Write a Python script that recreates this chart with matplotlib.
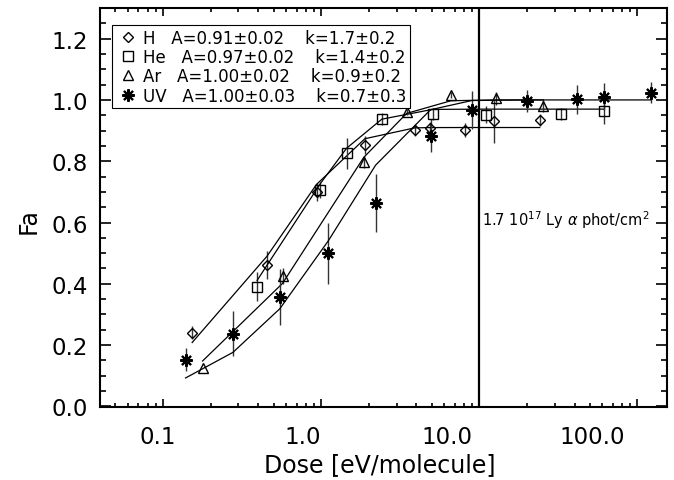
import numpy as np
import matplotlib
matplotlib.use("Agg")
import matplotlib.pyplot as plt
from matplotlib.ticker import MultipleLocator, LogLocator, NullFormatter, FixedLocator, FormatStrFormatter
from matplotlib.lines import Line2D

plt.rcParams['font.family'] = ['DejaVu Sans']

# ---- data ----
H_dose = [0.153, 0.455, 0.935, 1.89, 3.90, 4.88, 8.12, 12.4, 24.1]
H_fa   = [0.241, 0.461, 0.700, 0.853, 0.902, 0.907, 0.902, 0.930, 0.934]
H_err  = [0.022, 0.045, 0.030, 0.030, 0.020, 0.020, 0.022, 0.070, 0.020]

He_dose = [0.394, 0.99, 1.45, 2.42, 5.07, 11.0, 32.9, 61.6]
He_fa   = [0.391, 0.706, 0.826, 0.937, 0.953, 0.952, 0.953, 0.963]
He_err  = [0.048, 0.025, 0.050, 0.020, 0.020, 0.027, 0.020, 0.040]

Ar_dose = [0.178, 0.570, 1.86, 3.47, 6.62, 12.7, 25.4]
Ar_fa   = [0.124, 0.426, 0.798, 0.961, 1.015, 1.005, 0.980]
Ar_err  = [0.000, 0.026, 0.020, 0.010, 0.010, 0.020, 0.020]

UV_dose = [0.139, 0.277, 0.548, 1.11, 2.21, 4.92, 8.99, 19.9, 41.7, 61.8, 120.9]
UV_fa   = [0.152, 0.237, 0.357, 0.500, 0.663, 0.883, 0.967, 0.996, 1.002, 1.011, 1.024]
UV_err  = [0.038, 0.074, 0.090, 0.100, 0.094, 0.054, 0.063, 0.035, 0.047, 0.045, 0.033]

names  = ["H", "He", "Ar", "UV"]
A_fit  = [0.91, 0.97, 1.00, 1.00]
A_unc  = [0.02, 0.02, 0.02, 0.03]
k_fit  = [1.7, 1.4, 0.9, 0.7]
k_unc  = [0.2, 0.2, 0.2, 0.3]

x_ticks = [0.1, 1.0, 10.0, 100.0]
x_ticklabels = ["0.1", "1.0", "10.0", "100.0"]
vline_dose = 10.0

# ---- figure ----
fig = plt.figure(figsize=(6.74, 4.81), dpi=100)
W, Hpx = 674.0, 481.0
ax = fig.add_axes([100 / W, 1 - 408.3 / Hpx, 566.7 / W, 399.3 / Hpx])
ax.set_xscale('log')
ax.set_xlim(0.04, 153)
ax.set_ylim(-0.003, 1.30)

asterisk = (8, 2, 0)
series = [
    (H_dose, H_fa, H_err, 'D', 5.0),
    (He_dose, He_fa, He_err, 's', 7.0),
    (Ar_dose, Ar_fa, Ar_err, '^', 7.5),
    (UV_dose, UV_fa, UV_err, asterisk, 9.0),
]

handles = []
for (d, f, e, m, ms), A, k in zip(series, A_fit, k_fit):
    d = np.asarray(d); f = np.asarray(f); e = np.asarray(e)
    ax.errorbar(d, f, yerr=e, fmt='none', ecolor='#333333', elinewidth=1.0, capsize=0, zorder=2)
    mew = 1.5 if m == asterisk else 1.0
    ax.plot(d, f, linestyle='none', marker=m, ms=ms, mfc='none', mec='black', mew=mew, zorder=3)
    fit = A * (1 - np.exp(-k * d))
    ax.plot(d, fit, color='black', lw=0.9, zorder=2)
    handles.append(Line2D([], [], linestyle='none', marker=m, ms=ms, mfc='none', mec='black', mew=mew))

ax.axvline(vline_dose, color='black', lw=1.6, zorder=1)
ax.text(10.4, 0.592, r"1.7 10$^{17}$ Ly $\alpha$ phot/cm$^{2}$", fontsize=10.5, va='baseline', ha='left')

labels = [f"{n}   A={a:.2f}\u00b1{ae:.2f}    k={k:.1f}\u00b1{ke:.1f}"
          for n, a, ae, k, ke in zip(names, A_fit, A_unc, k_fit, k_unc)]
leg = ax.legend(handles, labels, loc='upper left', bbox_to_anchor=(0.0206, 0.957),
                borderaxespad=0, frameon=True, fancybox=False, framealpha=1,
                edgecolor='black', fontsize=12, handlelength=1.6, handletextpad=0.1,
                labelspacing=0.08, borderpad=0.2)
leg.get_frame().set_linewidth(0.8)

# ticks
ax.xaxis.set_major_locator(FixedLocator(x_ticks))
ax.xaxis.set_major_formatter(NullFormatter())
ax.xaxis.set_minor_locator(LogLocator(base=10, subs=np.arange(2, 10)))
ax.xaxis.set_minor_formatter(NullFormatter())
ax.yaxis.set_major_locator(MultipleLocator(0.2))
ax.yaxis.set_minor_locator(MultipleLocator(0.05))
ax.yaxis.set_major_formatter(FormatStrFormatter('%.1f'))

ax.tick_params(which='both', direction='in', top=True, right=True, width=1.2, labelsize=16.5)
ax.tick_params(axis='x', which='major', length=6)
ax.tick_params(axis='x', which='minor', length=3)
ax.tick_params(axis='y', which='major', length=8, pad=8.5)
ax.tick_params(axis='y', which='minor', length=4)
for s in ax.spines.values():
    s.set_linewidth(1.5)

# x tick labels: placed as in the reference (slightly compressed toward the left)
to_axes = ax.transScale + ax.transLimits
for t, lab in zip(x_ticks, x_ticklabels):
    fx = to_axes.transform((t, 0.5))[0]
    ax.text(fx * 0.915, -0.072, lab, transform=ax.transAxes, ha='center', va='center', fontsize=16.5)

ax.set_xlabel("Dose [eV/molecule]", fontsize=17)
ax.xaxis.set_label_coords(0.494, -0.112)
ax.set_ylabel("Fa", fontsize=17)
ax.yaxis.set_label_coords(-0.105, 0.47)

fig.savefig("out.png", dpi=100)
